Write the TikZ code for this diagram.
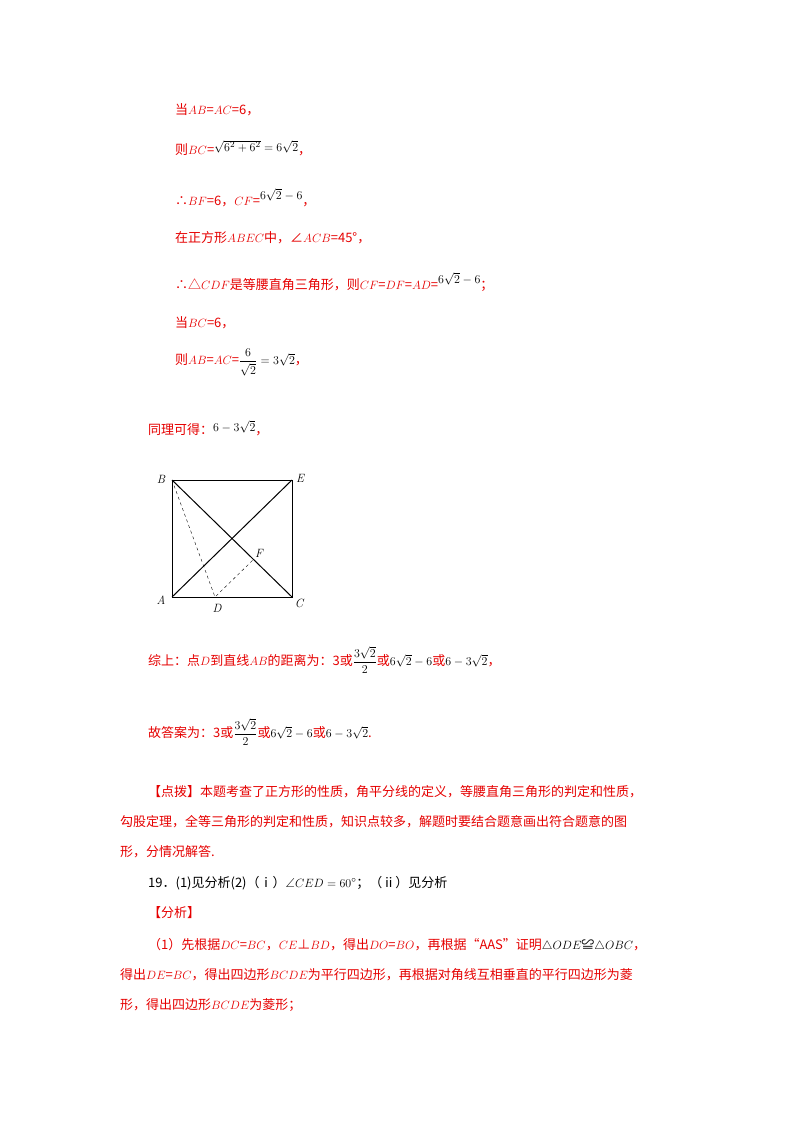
\documentclass[tikz,border=0pt]{standalone}
\usepackage{amsmath,amssymb}
\usepackage{fontspec}
\newfontfamily\cjk{Noto Sans CJK SC}
\definecolor{rd}{RGB}{230,0,0}
\begin{document}
\begin{tikzpicture}[x=1pt,y=-1pt,
 t/.style={anchor=west,inner sep=0pt,font=\cjk\fontsize{13}{15}\selectfont},
 r/.style={t,text=rd},
 lab/.style={inner sep=1pt,font=\fontsize{12}{14}\selectfont\itshape}]
\useasboundingbox[fill=white] (0,0) rectangle (800,1132);
\node[r] (l1) at (175,110) {当$AB$=$AC$=6，};
\node[r] (l2) at (175,148) {则$BC$=\raisebox{3pt}{\color{black}$\sqrt{6^2+6^2}=6\sqrt2$}，};
\node[r] (l3) at (175,198) {∴$BF$=6，$CF$=\raisebox{6pt}{\color{black}$6\sqrt2-6$}，};
\node[r] (l4) at (175,238) {在正方形$ABEC$中，∠$ACB$=45°，};
\node[r] (l5) at (175,282) {∴△$CDF$是等腰直角三角形，则$CF$=$DF$=$AD$=\raisebox{6pt}{\color{black}$6\sqrt2-6$}；};
\node[r] (l6) at (175,323) {当$BC$=6，};
\node[r] (l7) at (175,362) {则$AB$=$AC$=\color{black}$\dfrac{6}{\sqrt2}=3\sqrt2$\color{rd}，};
\node[r] (l8) at (148,428) {同理可得：\raisebox{3pt}{\color{black}$6-3\sqrt2$}，};
% figure
\coordinate (B) at (172,480); \coordinate (E) at (292,480);
\coordinate (A) at (172,597); \coordinate (C) at (292,597);
\coordinate (D) at (215,597); \coordinate (F) at (254,559);
\draw[line width=1pt] (A) rectangle (E);
\draw[line width=1pt] (B) -- (C) (A) -- (E);
\draw[dashed] (B) -- (D) -- (F);
\node[lab] at (161,479) {B}; \node[lab] at (300,478) {E};
\node[lab] at (161,600) {A}; \node[lab] at (299,603) {C};
\node[lab] at (217,608) {D}; \node[lab] at (259,553) {F};
\node[r] (l9) at (148,660) {综上：点$D$到直线$AB$的距离为：3或\color{black}$\dfrac{3\sqrt2}{2}$\color{rd}或\color{black}$6\sqrt2-6$\color{rd}或\color{black}$6-3\sqrt2$\color{rd}，};
\node[r] (l10) at (148,732) {故答案为：3或\color{black}$\dfrac{3\sqrt2}{2}$\color{rd}或\color{black}$6\sqrt2-6$\color{rd}或\color{black}$6-3\sqrt2$\color{rd}.};
\node[r] (l11) at (148,792) {【点拨】本题考查了正方形的性质，角平分线的定义，等腰直角三角形的判定和性质，};
\node[r] (l12) at (120,822) {勾股定理，全等三角形的判定和性质，知识点较多，解题时要结合题意画出符合题意的图};
\node[r] (l13) at (120,852) {形，分情况解答.};
\node[t] (l14) at (148,883) {19．(1)见分析(2)（ⅰ）$\angle CED=60^\circ$；（ⅱ）见分析};
\node[r] (l15) at (148,913) {【分析】};
\node[r] (l16) at (148,945) {（1）先根据$DC$=$BC$，$CE$⊥$BD$，得出$DO$=$BO$，再根据“AAS”证明\color{black}$\triangle ODE$≌$\triangle OBC$\color{rd}，};
\node[r] (l17) at (120,975) {得出$DE$=$BC$，得出四边形$BCDE$为平行四边形，再根据对角线互相垂直的平行四边形为菱};
\node[r] (l18) at (120,1005) {形，得出四边形$BCDE$为菱形；};
\end{tikzpicture}
\end{document}
